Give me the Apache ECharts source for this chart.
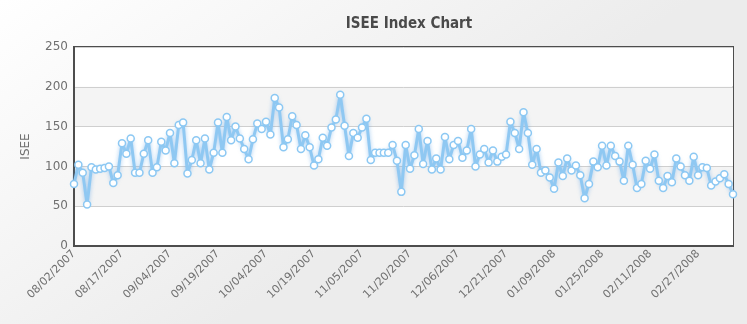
<!DOCTYPE html>
<html>
<head>
<meta charset="utf-8">
<title>ISEE Index Chart</title>
<script src="https://cdn.jsdelivr.net/npm/echarts@6/dist/echarts.min.js"></script>
<style>
  html, body { margin: 0; padding: 0; }
  #chart { width: 747px; height: 324px; }
</style>
</head>
<body>
<div id="chart"></div>
<script>
// Trading days, grouped by month (holidays and weekends already left out)
const aug2007 = ['08/02/2007','08/03/2007','08/06/2007','08/07/2007','08/08/2007','08/09/2007','08/10/2007','08/13/2007','08/14/2007','08/15/2007','08/16/2007','08/17/2007','08/20/2007','08/21/2007','08/22/2007','08/23/2007','08/24/2007','08/27/2007','08/28/2007','08/29/2007','08/30/2007','08/31/2007'];
const sep2007 = ['09/04/2007','09/05/2007','09/06/2007','09/07/2007','09/10/2007','09/11/2007','09/12/2007','09/13/2007','09/14/2007','09/17/2007','09/18/2007','09/19/2007','09/20/2007','09/21/2007','09/24/2007','09/25/2007','09/26/2007','09/27/2007','09/28/2007'];
const oct2007 = ['10/01/2007','10/02/2007','10/03/2007','10/04/2007','10/05/2007','10/08/2007','10/09/2007','10/10/2007','10/11/2007','10/12/2007','10/15/2007','10/16/2007','10/17/2007','10/18/2007','10/19/2007','10/22/2007','10/23/2007','10/24/2007','10/25/2007','10/26/2007','10/29/2007','10/30/2007','10/31/2007'];
const nov2007 = ['11/01/2007','11/02/2007','11/05/2007','11/06/2007','11/07/2007','11/08/2007','11/09/2007','11/12/2007','11/13/2007','11/14/2007','11/15/2007','11/16/2007','11/19/2007','11/20/2007','11/21/2007','11/23/2007','11/26/2007','11/27/2007','11/28/2007','11/29/2007','11/30/2007'];
const dec2007 = ['12/03/2007','12/04/2007','12/05/2007','12/06/2007','12/07/2007','12/10/2007','12/11/2007','12/12/2007','12/13/2007','12/14/2007','12/17/2007','12/18/2007','12/19/2007','12/20/2007','12/21/2007','12/24/2007','12/26/2007','12/27/2007','12/28/2007','12/31/2007'];
const jan2008 = ['01/02/2008','01/03/2008','01/04/2008','01/07/2008','01/08/2008','01/09/2008','01/10/2008','01/11/2008','01/14/2008','01/15/2008','01/16/2008','01/17/2008','01/18/2008','01/22/2008','01/23/2008','01/24/2008','01/25/2008','01/28/2008','01/29/2008','01/30/2008','01/31/2008'];
const feb2008 = ['02/01/2008','02/04/2008','02/05/2008','02/06/2008','02/07/2008','02/08/2008','02/11/2008','02/12/2008','02/13/2008','02/14/2008','02/15/2008','02/19/2008','02/20/2008','02/21/2008','02/22/2008','02/25/2008','02/26/2008','02/27/2008','02/28/2008','02/29/2008'];
const mar2008 = ['03/03/2008','03/04/2008','03/05/2008','03/06/2008','03/07/2008','03/10/2008'];

// Daily ISEE index values, one per trading day above
const iseeAug2007 = [78,102,92,52,99,96,97,98,100,79,89,129,116,135,92,92,116,133,92,99,131,120];
const iseeSep2007 = [142,104,152,155,91,108,133,104,135,96,117,155,117,162,133,150,135,122,109];
const iseeOct2007 = [134,154,147,156,140,186,174,124,134,163,152,122,139,124,101,109,136,126,149,159,190,151,113];
const iseeNov2007 = [142,136,149,160,108,117,117,117,117,127,107,68,127,97,114,147,103,132,96,110,96];
const iseeDec2007 = [137,109,127,132,111,120,147,100,115,122,105,120,106,112,115,156,142,122,168,142];
const iseeJan2008 = [102,122,92,95,86,72,105,88,110,95,101,89,60,78,106,99,126,101,126,113,106];
const iseeFeb2008 = [82,126,102,73,78,107,97,115,82,73,88,80,110,100,89,82,112,89,99,98];
const iseeMar2008 = [76,81,85,90,78,65];

const yTicks = { min: 0, max: 250, step: 50 };

const dates = [].concat(aug2007, sep2007, oct2007, nov2007, dec2007, jan2008, feb2008, mar2008);
const isee = [].concat(iseeAug2007, iseeSep2007, iseeOct2007, iseeNov2007, iseeDec2007, iseeJan2008, iseeFeb2008, iseeMar2008);

const chart = echarts.init(document.getElementById('chart'), null, { renderer: 'canvas' });

chart.setOption({
  animation: false,
  backgroundColor: {
    type: 'linear', x: 0, y: 0, x2: 0.3, y2: 1,
    colorStops: [
      { offset: 0, color: '#ffffff' },
      { offset: 1, color: '#ececec' }
    ]
  },
  title: {
    text: 'ISEE Index Chart',
    left: 404,
    top: 12,
    textAlign: 'center',
    textStyle: {
      fontFamily: 'DejaVu Sans Condensed, DejaVu Sans',
      fontSize: 15,
      fontWeight: 'bold',
      color: '#4a4a4a'
    }
  },
  grid: {
    left: 74,
    right: 14,
    top: 47,
    bottom: 78,
    show: true,
    borderColor: '#4d4d4d',
    borderWidth: 2,
    backgroundColor: 'transparent'
  },
  xAxis: {
    type: 'category',
    data: dates,
    boundaryGap: false,
    axisLine: { show: true, lineStyle: { color: '#4d4d4d', width: 2 } },
    axisTick: { show: false },
    splitLine: { show: false },
    axisLabel: {
      interval: 10,
      rotate: 45,
      margin: 6,
      fontFamily: 'DejaVu Sans',
      fontSize: 11,
      color: '#707070'
    }
  },
  yAxis: {
    type: 'value',
    min: yTicks.min,
    max: yTicks.max,
    interval: yTicks.step,
    name: 'ISEE',
    nameLocation: 'middle',
    nameGap: 42,
    nameRotate: 90,
    nameTextStyle: {
      fontFamily: 'DejaVu Sans',
      fontSize: 12,
      color: '#707070'
    },
    axisLine: { show: true, lineStyle: { color: '#4d4d4d', width: 2 } },
    axisTick: { show: false },
    axisLabel: {
      margin: 6,
      fontFamily: 'DejaVu Sans',
      fontSize: 12,
      color: '#707070'
    },
    splitLine: { show: true, lineStyle: { color: '#cfcfcf', width: 1 } },
    splitArea: {
      show: true,
      areaStyle: { color: ['#ffffff', '#f4f4f4'] }
    }
  },
  series: [{
    type: 'line',
    data: isee,
    symbol: 'circle',
    symbolSize: 7,
    showAllSymbol: true,
    lineStyle: {
      color: '#8fc8f2',
      width: 3,
      shadowColor: 'rgba(90,160,230,0.55)',
      shadowBlur: 4
    },
    itemStyle: {
      color: '#ffffff',
      borderColor: '#8cc8f3',
      borderWidth: 1.5
    }
  }]
});
</script>
</body>
</html>
